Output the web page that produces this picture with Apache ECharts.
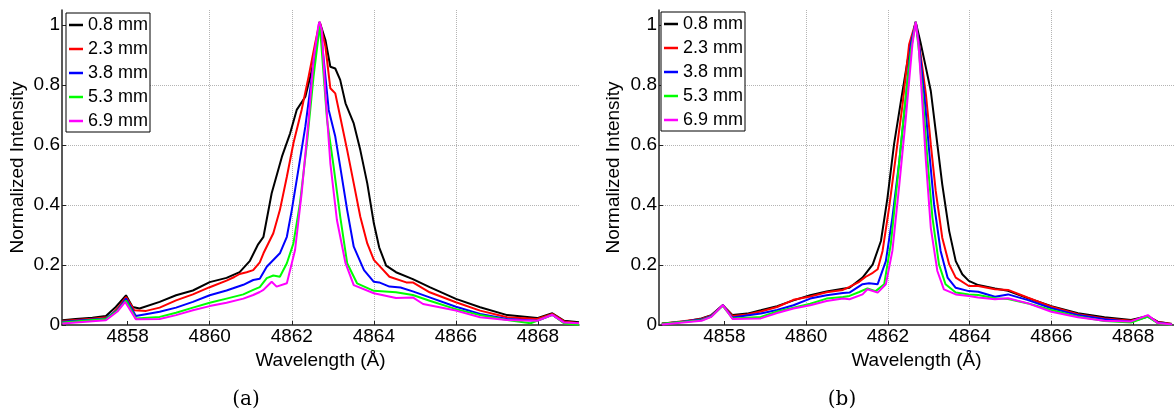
<!DOCTYPE html>
<html>
<head>
<meta charset="utf-8">
<script src="https://cdn.jsdelivr.net/npm/echarts@6/dist/echarts.min.js"></script>
<style>
html,body{margin:0;padding:0;background:#fff;}
#chart{width:1174px;height:412px;}
</style>
</head>
<body>
<div id="chart"></div>
<script>
// ---------- data ----------
const seriesNames = ['0.8 mm', '2.3 mm', '3.8 mm', '5.3 mm', '6.9 mm'];
const seriesColors = ['#000000', '#ff0000', '#0000ff', '#00ff00', '#ff00ff'];
const xTicks = [4858, 4860, 4862, 4864, 4866, 4868];
const yTicks = [0, 0.2, 0.4, 0.6, 0.8, 1];
const panelLabels = ['(a)', '(b)'];

// panel (a)
const a08 = [[4856.41,0.016],[4856.73,0.02],[4857.14,0.024],[4857.47,0.03],[4857.71,0.06],[4857.96,0.099],[4858.12,0.06],[4858.29,0.055],[4858.78,0.077],[4859.18,0.099],[4859.59,0.115],[4860.0,0.143],[4860.41,0.157],[4860.73,0.176],[4860.98,0.214],[4861.18,0.269],[4861.31,0.294],[4861.51,0.439],[4861.76,0.561],[4861.96,0.639],[4862.12,0.717],[4862.33,0.761],[4862.49,0.85],[4862.68,1.01],[4862.82,0.95],[4862.94,0.861],[4863.06,0.855],[4863.18,0.817],[4863.31,0.739],[4863.51,0.672],[4863.67,0.583],[4863.84,0.472],[4864.0,0.339],[4864.13,0.259],[4864.3,0.198],[4864.54,0.176],[4864.95,0.153],[4865.36,0.126],[4866.0,0.087],[4866.59,0.059],[4867.25,0.033],[4867.98,0.023],[4868.35,0.039],[4868.64,0.014],[4869.0,0.009]];
const a23 = [[4856.41,0.013],[4857.14,0.021],[4857.55,0.027],[4857.75,0.055],[4857.96,0.093],[4858.16,0.049],[4858.45,0.047],[4858.78,0.058],[4859.18,0.082],[4859.59,0.102],[4860.0,0.126],[4860.41,0.148],[4860.6,0.16],[4860.73,0.17],[4860.9,0.176],[4861.06,0.183],[4861.22,0.209],[4861.31,0.239],[4861.55,0.306],[4861.71,0.383],[4861.88,0.494],[4862.04,0.606],[4862.24,0.717],[4862.41,0.828],[4862.57,0.939],[4862.68,1.01],[4862.82,0.928],[4862.94,0.789],[4863.06,0.772],[4863.18,0.694],[4863.35,0.583],[4863.51,0.472],[4863.67,0.361],[4863.84,0.272],[4864.0,0.217],[4864.13,0.198],[4864.38,0.161],[4864.79,0.142],[4864.95,0.142],[4865.36,0.109],[4866.0,0.076],[4866.59,0.048],[4867.25,0.026],[4867.98,0.02],[4868.35,0.037],[4868.64,0.012],[4869.0,0.006]];
const a38 = [[4856.41,0.011],[4857.47,0.022],[4857.75,0.05],[4857.96,0.088],[4858.2,0.03],[4858.78,0.044],[4859.18,0.058],[4859.59,0.077],[4860.0,0.099],[4860.41,0.115],[4860.82,0.134],[4861.06,0.15],[4861.22,0.154],[4861.39,0.194],[4861.71,0.239],[4861.88,0.294],[4862.0,0.383],[4862.16,0.517],[4862.33,0.661],[4862.49,0.828],[4862.61,0.939],[4862.68,1.01],[4862.78,0.883],[4862.9,0.717],[4863.06,0.628],[4863.18,0.528],[4863.35,0.383],[4863.51,0.261],[4863.76,0.183],[4864.0,0.144],[4864.13,0.142],[4864.38,0.128],[4864.65,0.125],[4864.95,0.112],[4865.36,0.092],[4866.0,0.061],[4866.59,0.037],[4867.25,0.02],[4867.98,0.014],[4868.35,0.034],[4868.64,0.008],[4869.0,0.003]];
const a53 = [[4856.41,0.008],[4857.47,0.02],[4857.75,0.048],[4857.96,0.082],[4858.2,0.022],[4858.78,0.027],[4859.18,0.041],[4859.59,0.058],[4860.0,0.074],[4860.41,0.088],[4860.82,0.102],[4861.06,0.117],[4861.22,0.126],[4861.39,0.156],[4861.55,0.165],[4861.71,0.161],[4861.88,0.206],[4862.04,0.272],[4862.2,0.406],[4862.37,0.606],[4862.53,0.828],[4862.65,0.961],[4862.68,1.01],[4862.73,0.917],[4862.86,0.683],[4863.02,0.528],[4863.18,0.361],[4863.35,0.206],[4863.59,0.139],[4864.0,0.114],[4864.54,0.109],[4864.95,0.1],[4865.36,0.081],[4866.0,0.053],[4866.59,0.033],[4867.25,0.017],[4867.82,0.006],[4868.35,0.034],[4868.64,0.005],[4869.0,0.001]];
const a69 = [[4856.41,0.005],[4857.47,0.016],[4857.75,0.045],[4857.94,0.077],[4858.2,0.019],[4858.78,0.02],[4859.18,0.033],[4859.59,0.049],[4860.0,0.063],[4860.41,0.074],[4860.82,0.088],[4861.06,0.1],[4861.22,0.11],[4861.31,0.117],[4861.51,0.144],[4861.63,0.128],[4861.88,0.139],[4862.08,0.25],[4862.24,0.439],[4862.41,0.683],[4862.53,0.883],[4862.65,1.0],[4862.68,1.01],[4862.73,0.983],[4862.82,0.772],[4862.94,0.539],[4863.1,0.35],[4863.31,0.206],[4863.51,0.133],[4864.0,0.106],[4864.54,0.09],[4864.95,0.092],[4865.2,0.07],[4866.0,0.048],[4866.59,0.026],[4867.25,0.017],[4867.98,0.014],[4868.35,0.034],[4868.64,0.008],[4869.0,0.006]];

// panel (b)
const b08 = [[4856.47,0.005],[4857.0,0.011],[4857.44,0.022],[4857.68,0.033],[4857.96,0.066],[4858.2,0.033],[4858.56,0.038],[4858.89,0.049],[4859.29,0.063],[4859.69,0.082],[4860.1,0.099],[4860.5,0.112],[4860.9,0.121],[4861.06,0.124],[4861.38,0.158],[4861.63,0.202],[4861.83,0.28],[4861.99,0.424],[4862.15,0.602],[4862.32,0.747],[4862.48,0.88],[4862.6,0.958],[4862.68,1.01],[4862.8,0.941],[4862.93,0.858],[4863.05,0.78],[4863.17,0.647],[4863.33,0.469],[4863.5,0.313],[4863.66,0.213],[4863.82,0.169],[4863.98,0.147],[4864.21,0.133],[4864.62,0.122],[4864.94,0.114],[4865.43,0.089],[4866.0,0.063],[4866.65,0.039],[4867.3,0.026],[4867.95,0.017],[4868.36,0.03],[4868.6,0.011],[4868.95,0.003]];
const b23 = [[4856.47,0.004],[4857.44,0.02],[4857.68,0.032],[4857.96,0.066],[4858.2,0.03],[4858.56,0.035],[4858.89,0.045],[4859.29,0.06],[4859.69,0.084],[4860.1,0.095],[4860.5,0.109],[4860.9,0.117],[4861.06,0.127],[4861.3,0.144],[4861.45,0.16],[4861.63,0.174],[4861.75,0.186],[4861.87,0.247],[4862.03,0.391],[4862.2,0.569],[4862.36,0.736],[4862.52,0.936],[4862.68,1.01],[4862.8,0.902],[4862.93,0.769],[4863.05,0.602],[4863.17,0.447],[4863.33,0.291],[4863.5,0.202],[4863.66,0.158],[4863.98,0.13],[4864.21,0.13],[4864.62,0.119],[4864.94,0.117],[4865.43,0.091],[4866.0,0.061],[4866.65,0.036],[4867.3,0.022],[4867.95,0.014],[4868.36,0.028],[4868.6,0.01],[4868.95,0.003]];
const b38 = [[4856.47,0.003],[4857.44,0.018],[4857.68,0.03],[4857.96,0.066],[4858.2,0.025],[4858.89,0.038],[4859.29,0.05],[4859.69,0.066],[4860.1,0.088],[4860.5,0.099],[4860.9,0.107],[4861.06,0.108],[4861.38,0.136],[4861.54,0.139],[4861.75,0.136],[4861.95,0.213],[4862.11,0.358],[4862.28,0.547],[4862.44,0.758],[4862.56,0.936],[4862.68,1.01],[4862.76,0.936],[4862.89,0.769],[4863.01,0.58],[4863.13,0.402],[4863.29,0.247],[4863.46,0.158],[4863.66,0.124],[4863.98,0.113],[4864.21,0.111],[4864.62,0.094],[4864.94,0.102],[4865.43,0.083],[4866.0,0.056],[4866.65,0.033],[4867.3,0.019],[4867.95,0.011],[4868.36,0.028],[4868.6,0.008],[4868.95,0.002]];
const b53 = [[4856.47,0.004],[4857.44,0.016],[4857.68,0.028],[4857.96,0.064],[4858.2,0.022],[4858.89,0.027],[4859.29,0.045],[4859.69,0.058],[4860.1,0.071],[4860.5,0.088],[4860.9,0.093],[4861.06,0.097],[4861.3,0.11],[4861.5,0.122],[4861.7,0.113],[4861.91,0.136],[4862.07,0.269],[4862.24,0.491],[4862.4,0.713],[4862.56,0.913],[4862.68,1.01],[4862.76,0.913],[4862.85,0.769],[4862.97,0.547],[4863.09,0.358],[4863.25,0.202],[4863.41,0.136],[4863.66,0.108],[4863.98,0.102],[4864.21,0.1],[4864.62,0.089],[4864.94,0.087],[4865.43,0.072],[4866.0,0.05],[4866.65,0.028],[4867.3,0.013],[4867.95,0.008],[4868.36,0.028],[4868.6,0.006],[4868.95,0.001]];
const b69 = [[4856.47,0.002],[4857.44,0.014],[4857.68,0.027],[4857.96,0.066],[4858.2,0.02],[4858.89,0.022],[4859.29,0.04],[4859.69,0.055],[4860.1,0.066],[4860.5,0.08],[4860.9,0.088],[4861.06,0.086],[4861.38,0.102],[4861.5,0.119],[4861.75,0.108],[4861.95,0.136],[4862.11,0.247],[4862.28,0.469],[4862.44,0.691],[4862.6,0.936],[4862.68,1.01],[4862.75,0.936],[4862.83,0.769],[4862.93,0.547],[4863.05,0.324],[4863.21,0.18],[4863.37,0.119],[4863.66,0.102],[4863.98,0.097],[4864.21,0.092],[4864.62,0.086],[4864.94,0.089],[4865.43,0.072],[4866.0,0.044],[4866.65,0.026],[4867.3,0.014],[4867.95,0.012],[4868.36,0.033],[4868.6,0.007],[4868.95,0.002]];

const panelA = [a08, a23, a38, a53, a69];
const panelB = [b08, b23, b38, b53, b69];

// ---------- chart ----------
const FONT = 'Liberation Sans, Arial, sans-serif';
const chart = echarts.init(document.getElementById('chart'), null, {renderer: 'canvas'});

function xAxisCfg(gridIndex) {
  return {
    type: 'value', gridIndex: gridIndex, min: 4856.4, max: 4869,
    name: 'Wavelength (\u00C5)', nameLocation: 'middle', nameGap: 19,
    nameTextStyle: {fontSize: 19, fontFamily: FONT, color: '#000'},
    axisLine: {show: true, onZero: false, lineStyle: {color: '#222', width: 1.5}},
    axisTick: {show: true, inside: true, length: 4, customValues: xTicks, lineStyle: {color: '#222'}},
    axisLabel: {show: true, customValues: xTicks, margin: 2, fontSize: 19, fontFamily: FONT, color: '#000',
      formatter: v => String(Math.round(v))},
    splitLine: {show: true, showMinLine: false, showMaxLine: false, lineStyle: {type: 'dotted', color: '#b4b4b4', width: 1}}
  };
}
function yAxisCfg(gridIndex, gap) {
  return {
    type: 'value', gridIndex: gridIndex, min: 0, max: 1.05,
    name: 'Normalized Intensity', nameLocation: 'middle', nameGap: gap,
    nameTextStyle: {fontSize: 19, fontFamily: FONT, color: '#000'},
    axisLine: {show: true, lineStyle: {color: '#222', width: 1.5}},
    axisTick: {show: true, inside: true, length: 4, customValues: yTicks, lineStyle: {color: '#222'}},
    axisLabel: {show: true, customValues: yTicks, margin: 2, fontSize: 19, fontFamily: FONT, color: '#000',
      formatter: v => String(Math.round(v * 10) / 10)},
    splitLine: {show: true, showMinLine: false, showMaxLine: false, lineStyle: {type: 'dotted', color: '#b4b4b4', width: 1}}
  };
}
function legendCfg(left, top) {
  return {
    orient: 'vertical', left: left, top: top,
    backgroundColor: '#fff', borderColor: '#000', borderWidth: 1, borderRadius: 0,
    padding: [3, 2, 2, 3], itemGap: 6, itemWidth: 14, itemHeight: 2.5, icon: 'rect',
    textStyle: {fontSize: 18, fontFamily: FONT, color: '#000', lineHeight: 18},
    data: seriesNames.map((n, i) => ({name: n, icon: 'rect', itemStyle: {color: seriesColors[i]}}))
  };
}

const series = [];
[panelA, panelB].forEach((panel, p) => {
  panel.forEach((data, i) => {
    series.push({
      type: 'line', name: seriesNames[i], xAxisIndex: p, yAxisIndex: p,
      data: data, symbol: 'none', showSymbol: false, smooth: false, clip: true,
      lineStyle: {color: seriesColors[i], width: 2}, itemStyle: {color: seriesColors[i]},
      emphasis: {disabled: true}, z: 2 + i
    });
  });
});

chart.setOption({
  animation: false,
  backgroundColor: '#fff',
  grid: [
    {left: 62, top: 10, width: 517, height: 315, containLabel: false},
    {left: 659, top: 10, width: 515, height: 315, containLabel: false}
  ],
  xAxis: [xAxisCfg(0), xAxisCfg(1)],
  yAxis: [yAxisCfg(0, 35), yAxisCfg(1, 36)],
  legend: [legendCfg(66, 13), legendCfg(661, 12)],
  graphic: [
    {type: 'text', x: 246, y: 400, style: {text: panelLabels[0], font: '20px "DejaVu Serif", serif', fill: '#000', textAlign: 'center', textVerticalAlign: 'middle'}},
    {type: 'text', x: 842, y: 400, style: {text: panelLabels[1], font: '20px "DejaVu Serif", serif', fill: '#000', textAlign: 'center', textVerticalAlign: 'middle'}}
  ],
  series: series
});
</script>
</body>
</html>
